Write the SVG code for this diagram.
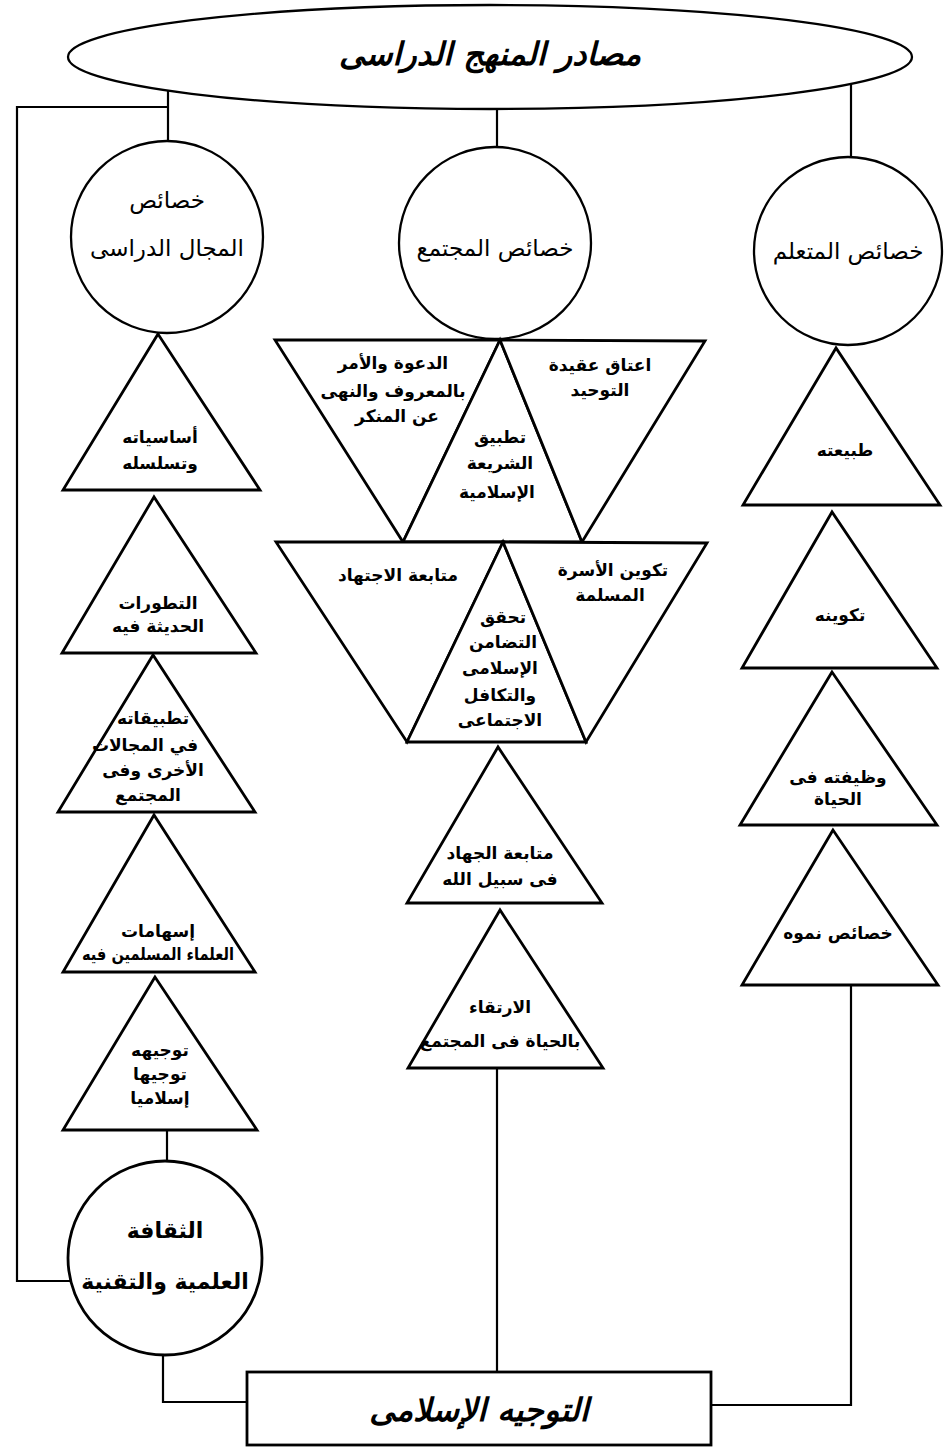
<svg xmlns="http://www.w3.org/2000/svg" width="950" height="1448" viewBox="0 0 950 1448">
<style>
.bg{fill:#fff}
.shape{fill:#fff;stroke:#000;stroke-width:2.8;stroke-linejoin:miter}
.thin{fill:#fff;stroke:#000;stroke-width:2.3}
.conn{fill:none;stroke:#000;stroke-width:2.2}
text{font-family:"DejaVu Sans",sans-serif;fill:#000;text-anchor:middle;dominant-baseline:central;direction:rtl}
.t{font-size:17px;font-weight:bold}
.c{font-size:23px}
.title{font-size:32px;font-weight:bold;font-style:italic}
.big{font-size:22px;font-weight:bold}
</style>
<rect class="bg" x="0" y="0" width="950" height="1448"/>
<g id="connectors">
<polyline class="conn" points="168,90 168,142"/>
<polyline class="conn" points="168,107 17,107 17,1281 70,1281"/>
<polyline class="conn" points="497,108 497,147"/>
<polyline class="conn" points="851,84 851,156"/>
<polyline class="conn" points="167,1130 167,1160"/>
<polyline class="conn" points="163,1356 163,1402 247,1402"/>
<polyline class="conn" points="497,1068 497,1372"/>
<polyline class="conn" points="851,985 851,1405 711,1405"/>
</g>
<g id="sources">
<ellipse class="thin" cx="490" cy="57" rx="422" ry="52"/>
<text class="title" x="490" y="54">مصادر المنهج الدراسى</text>
</g>
<g id="field">
<circle class="thin" cx="167" cy="237" r="96"/>
<text class="c" x="167" y="200">خصائص</text>
<text class="c" x="167" y="248">المجال الدراسى</text>
</g>
<g id="society">
<circle class="thin" cx="495" cy="243" r="96"/>
<text class="c" x="495" y="248">خصائص المجتمع</text>
</g>
<g id="learner">
<circle class="thin" cx="848" cy="251" r="94"/>
<text class="c" x="848" y="251">خصائص المتعلم</text>
</g>
<g id="l1">
<polygon class="shape" points="158,334 63,490 260,490"/>
<text class="t" x="160" y="437">أساسياته</text>
<text class="t" x="160" y="463">وتسلسله</text>
</g>
<g id="l2">
<polygon class="shape" points="154,497 62,653 256,653"/>
<text class="t" x="158" y="603">التطورات</text>
<text class="t" x="158" y="626">الحديثة فيه</text>
</g>
<g id="l3">
<polygon class="shape" points="153,655 58,812 255,812"/>
<text class="t" x="153" y="718">تطبيقاته</text>
<text class="t" x="145" y="745">في المجالات</text>
<text class="t" x="153" y="770">الأخرى وفى</text>
<text class="t" x="148" y="795">المجتمع</text>
</g>
<g id="l4">
<polygon class="shape" points="154,815 63,972 255,972"/>
<text class="t" x="158" y="931">إسهامات</text>
<text class="t" x="158" y="954" textLength="152" lengthAdjust="spacingAndGlyphs">العلماء المسلمين فيه</text>
</g>
<g id="l5">
<polygon class="shape" points="155,977 63,1130 257,1130"/>
<text class="t" x="160" y="1050">توجيهه</text>
<text class="t" x="160" y="1074">توجيها</text>
<text class="t" x="160" y="1098">إسلاميا</text>
</g>
<g id="culture">
<circle class="shape" cx="165" cy="1258" r="97"/>
<text class="big" x="165" y="1230">الثقافة</text>
<text class="big" x="165" y="1281">العلمية والتقنية</text>
</g>
<g id="m-dawa">
<polygon class="shape" points="275,340 500,340 403,542"/>
<text class="t" x="393" y="363">الدعوة والأمر</text>
<text class="t" x="393" y="391">بالمعروف والنهى</text>
<text class="t" x="397" y="416">عن المنكر</text>
</g>
<g id="m-sharia">
<polygon class="shape" points="500,340 403,542 582,542"/>
<text class="t" x="500" y="437">تطبيق</text>
<text class="t" x="500" y="463">الشريعة</text>
<text class="t" x="497" y="492">الإسلامية</text>
</g>
<g id="m-tawhid">
<polygon class="shape" points="500,340 705,341 582,542"/>
<text class="t" x="600" y="365">اعتاق عقيدة</text>
<text class="t" x="600" y="390">التوحيد</text>
</g>
<g id="m-ijtihad">
<polygon class="shape" points="276,542 503,542 407,742"/>
<text class="t" x="398" y="575">متابعة الاجتهاد</text>
</g>
<g id="m-takaful">
<polygon class="shape" points="503,542 407,742 586,742"/>
<text class="t" x="503" y="617">تحقق</text>
<text class="t" x="503" y="642">التضامن</text>
<text class="t" x="500" y="668">الإسلامى</text>
<text class="t" x="500" y="695">والتكافل</text>
<text class="t" x="500" y="720">الاجتماعى</text>
</g>
<g id="m-family">
<polygon class="shape" points="503,542 707,543 586,742"/>
<text class="t" x="613" y="570">تكوين الأسرة</text>
<text class="t" x="610" y="595">المسلمة</text>
</g>
<g id="m-jihad">
<polygon class="shape" points="498,747 407,903 602,903"/>
<text class="t" x="500" y="853">متابعة الجهاد</text>
<text class="t" x="500" y="879">فى سبيل الله</text>
</g>
<g id="m-irtiqa">
<polygon class="shape" points="500,910 408,1068 603,1068"/>
<text class="t" x="500" y="1007">الارتقاء</text>
<text class="t" x="500" y="1041">بالحياة فى المجتمع</text>
</g>
<g id="r1">
<polygon class="shape" points="836,348 743,505 940,505"/>
<text class="t" x="845" y="450">طبيعته</text>
</g>
<g id="r2">
<polygon class="shape" points="832,512 742,668 937,668"/>
<text class="t" x="840" y="615">تكوينه</text>
</g>
<g id="r3">
<polygon class="shape" points="832,672 740,825 937,825"/>
<text class="t" x="838" y="777">وظيفته فى</text>
<text class="t" x="838" y="799">الحياة</text>
</g>
<g id="r4">
<polygon class="shape" points="833,830 742,985 938,985"/>
<text class="t" x="838" y="933">خصائص نموه</text>
</g>
<g id="guidance">
<rect class="shape" x="247" y="1372" width="464" height="73"/>
<text class="title" x="479" y="1410">التوجيه الإسلامى</text>
</g>
</svg>
